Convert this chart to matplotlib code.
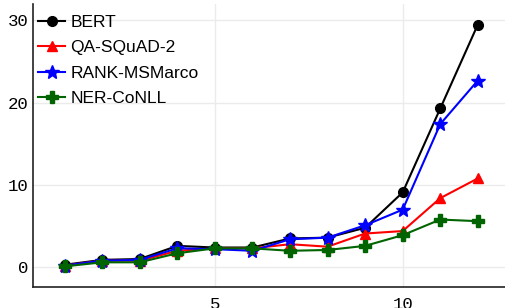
import matplotlib
matplotlib.use("Agg")
import matplotlib.pyplot as plt

x = list(range(1, 13))
bert = [0.3, 0.9, 1.0, 2.6, 2.4, 2.4, 3.5, 3.6, 4.8, 9.1, 19.3, 29.5]
qa = [0.2, 0.8, 0.8, 2.0, 2.3, 2.3, 2.8, 2.5, 4.1, 4.4, 8.4, 10.8]
rank = [0.2, 0.8, 0.9, 2.3, 2.2, 2.0, 3.4, 3.6, 5.1, 7.0, 17.4, 22.7]
ner = [0.1, 0.6, 0.6, 1.7, 2.3, 2.3, 2.0, 2.1, 2.6, 3.9, 5.8, 5.6]

fig = plt.figure(figsize=(5.06, 3.08), dpi=100)
ax = fig.add_axes([33/506, 21/308, 473/506, 283/308])

ax.plot(x, bert, color="black", marker="o", markersize=7, lw=1.5, label="BERT")
ax.plot(x, qa, color="red", marker="^", markersize=7, lw=1.5, label="QA-SQuAD-2")
ax.plot(x, rank, color="blue", marker="*", markersize=10, lw=1.5, label="RANK-MSMarco")
ax.plot(x, ner, color="#006400", marker="P", markersize=9, lw=1.5, label="NER-CoNLL")

ax.set_xlim(0.16, 12.75)
ax.set_ylim(-2.4, 32.0)
ax.set_xticks([5, 10])
ax.set_yticks([0, 10, 20, 30])
ax.grid(True, color="#ebebeb", lw=1)
ax.set_axisbelow(True)
for s in ["top", "right"]:
    ax.spines[s].set_visible(False)
for s in ["left", "bottom"]:
    ax.spines[s].set_color("#222222")
    ax.spines[s].set_linewidth(1.2)
ax.tick_params(axis="x", length=0, pad=7, labelsize=12.5)
ax.tick_params(axis="y", length=0, pad=3, labelsize=12.5)
for lab in ax.get_xticklabels() + ax.get_yticklabels():
    lab.set_family("Liberation Mono")

leg = ax.legend(loc="upper left", frameon=False, prop={"family": "Liberation Sans", "size": 12.5},
                handlelength=1.55, handletextpad=0.3, labelspacing=0.6,
                borderaxespad=0.0, bbox_to_anchor=(-0.004, 0.987))

fig.savefig("out.png", dpi=100)
